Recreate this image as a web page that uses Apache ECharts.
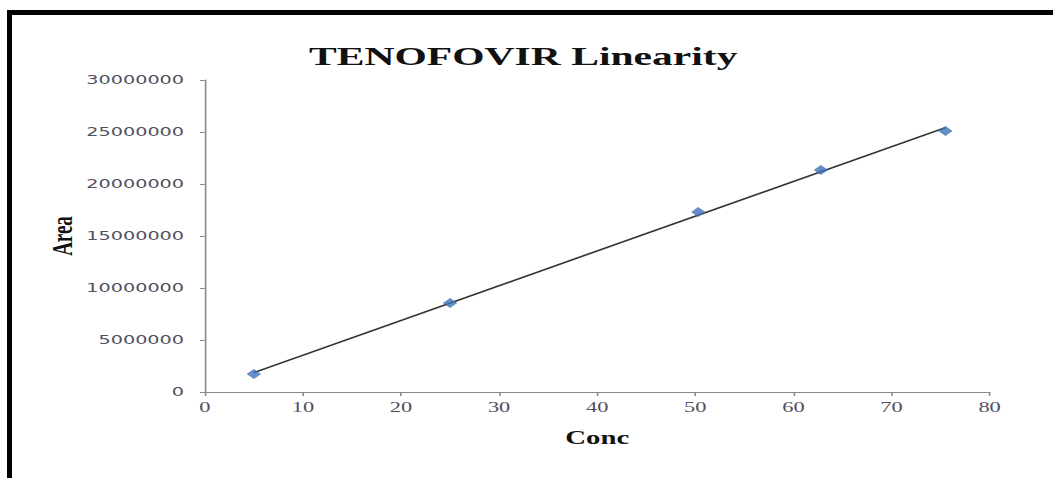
<!DOCTYPE html>
<html>
<head>
<meta charset="utf-8">
<script src="https://cdn.jsdelivr.net/npm/echarts@6/dist/echarts.min.js"></script>
<style>
html,body{margin:0;padding:0;background:#fff;overflow:hidden;}
#frame{position:absolute;left:7px;top:10px;width:1046px;height:468px;border-top:5px solid #000;border-left:5px solid #000;box-sizing:border-box;}
/* the reference picture is a chart stretched sideways; draw it narrow and stretch it the same way */
#chart{position:absolute;left:0;top:0;width:658px;height:478px;transform:scaleX(1.6);transform-origin:0 0;}
</style>
</head>
<body>
<div id="frame"></div>
<div id="chart"></div>
<script>
// Data
const conc = [5, 25, 50.3, 62.8, 75.5];
const area = [1730000, 8560000, 17300000, 21350000, 25100000];
const xTicks = [0, 10, 20, 30, 40, 50, 60, 70, 80];
const yTicks = [0, 5000000, 10000000, 15000000, 20000000, 25000000, 30000000];

const points = conc.map((c, i) => [c, area[i]]);

// least-squares linear trendline over the data range
const n = conc.length;
const mx = conc.reduce((a, b) => a + b, 0) / n;
const my = area.reduce((a, b) => a + b, 0) / n;
let sxy = 0, sxx = 0;
for (let i = 0; i < n; i++) { sxy += (conc[i] - mx) * (area[i] - my); sxx += (conc[i] - mx) * (conc[i] - mx); }
const slope = sxy / sxx, icpt = my - slope * mx;
const xMin = Math.min(...conc), xMax = Math.max(...conc);
const trend = [[xMin, slope * xMin + icpt], [xMax, slope * xMax + icpt]];

const chart = echarts.init(document.getElementById('chart'), null, {renderer: 'svg'});
chart.setOption({
  animation: false,
  backgroundColor: 'transparent',
  title: {
    text: 'TENOFOVIR Linearity',
    left: 322, top: 38, textAlign: 'center',
    textStyle: {fontFamily: 'Liberation Serif', fontWeight: 'bold', fontSize: 26, color: '#111'}
  },
  grid: {left: 128, right: 39.5, top: 80, bottom: 86},
  xAxis: {
    type: 'value', min: 0, max: 80, interval: 10,
    name: 'Conc', nameLocation: 'middle', nameGap: 37,
    nameTextStyle: {fontFamily: 'Liberation Serif', fontWeight: 'bold', fontSize: 18, color: '#111'},
    axisLine: {show: true, lineStyle: {color: '#8a8a8a', width: 1}},
    axisTick: {show: true, inside: false, length: 4, lineStyle: {color: '#8a8a8a'}},
    axisLabel: {fontFamily: 'Liberation Serif', fontSize: 14, color: '#505060', margin: 8,
      formatter: v => xTicks.includes(v) ? String(v) : ''},
    splitLine: {show: false}
  },
  yAxis: {
    type: 'value', min: 0, max: 30000000, interval: 5000000,
    name: 'Area', nameLocation: 'middle', nameGap: 80, nameRotate: 90, nameMoveOverlap: false,
    nameTextStyle: {fontFamily: 'Liberation Serif', fontWeight: 'bold', fontSize: 19, color: '#111'},
    axisLine: {show: true, lineStyle: {color: '#8a8a8a', width: 1}},
    axisTick: {show: true, inside: false, length: 3, lineStyle: {color: '#8a8a8a'}},
    axisLabel: {fontFamily: 'DejaVu Sans', fontSize: 12, color: '#505060', margin: 13,
      formatter: v => yTicks.includes(v) ? String(v) : ''},
    splitLine: {show: false}
  },
  series: [
    {
      type: 'line', data: trend, symbol: 'none', silent: true,
      lineStyle: {color: '#333', width: 1.5}, z: 2
    },
    {
      type: 'scatter', data: points, symbol: 'diamond', symbolSize: [9, 10],
      itemStyle: {color: '#3f72b8'}, z: 3
    }
  ]
});
</script>
</body>
</html>
